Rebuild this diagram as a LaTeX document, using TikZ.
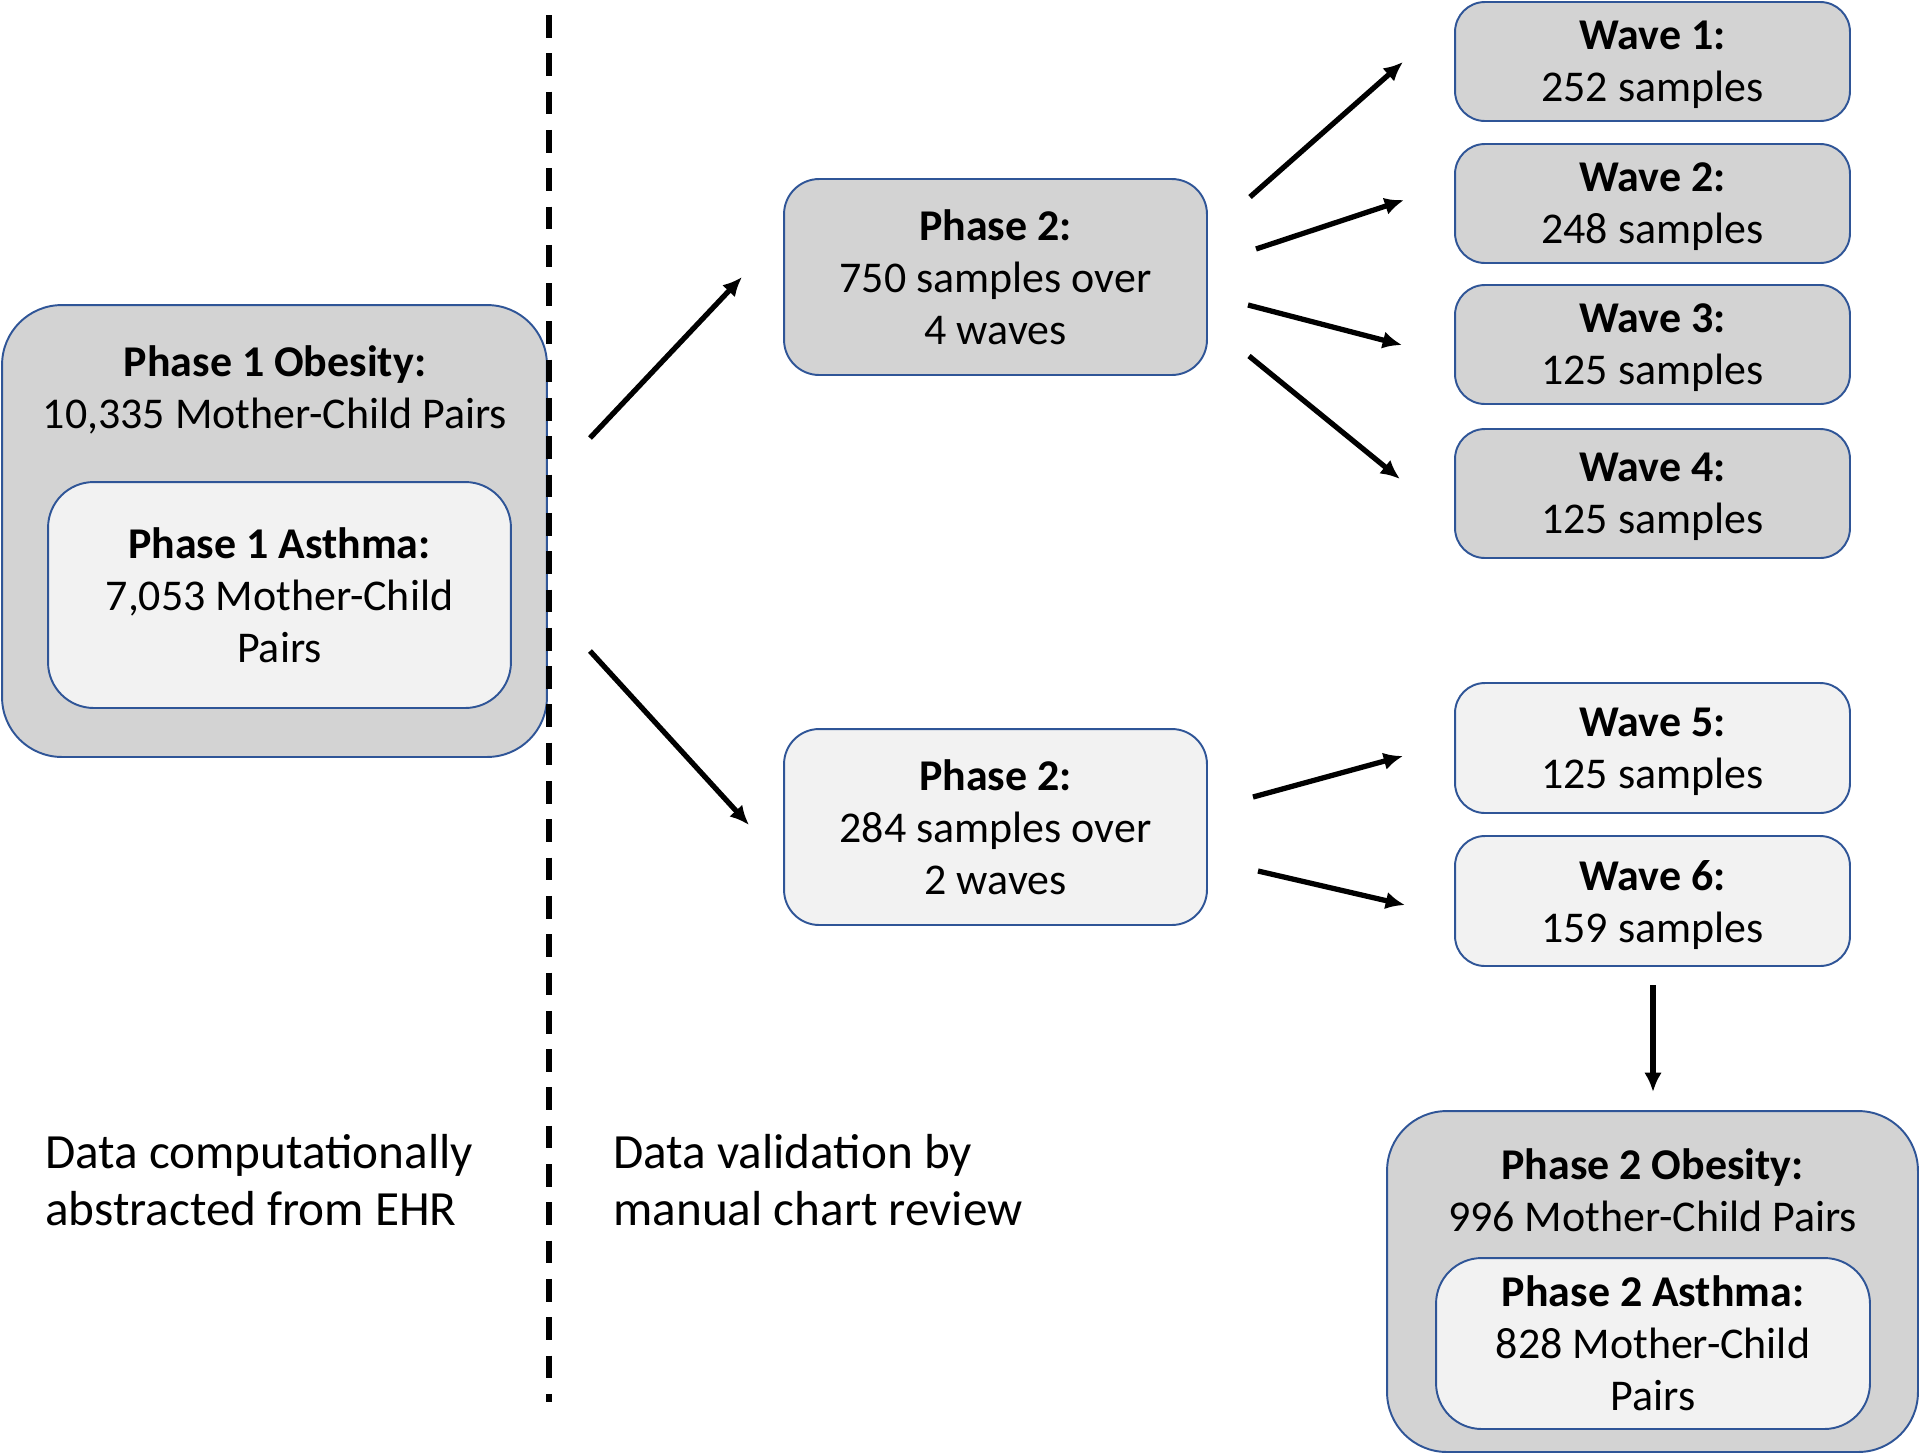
\documentclass[tikz,border=0pt]{standalone}
\usepackage{fontspec}
\setmainfont{Carlito}
\usetikzlibrary{arrows.meta}

\definecolor{boxline}{HTML}{2F5597}
\definecolor{boxdark}{HTML}{D3D3D3}
\definecolor{boxlight}{HTML}{F2F2F2}

\tikzset{
  box/.style={draw=boxline, line width=1.1pt, align=center, inner sep=0pt},
  darkbox/.style={box, fill=boxdark},
  lightbox/.style={box, fill=boxlight},
  wavebox/.style={rounded corners=17pt, minimum width=7.9cm, text depth=0pt},
  flow/.style={->, line width=3pt},
  note/.style={align=left, anchor=west, inner sep=0pt, font=\fontsize{28}{32.7}\selectfont},
}

\begin{document}
\begin{tikzpicture}[x=0.02cm, y=-0.02cm, >={Latex[length=11pt,width=10pt]},
  every node/.style={font=\fontsize{25}{29.6}\selectfont}]
  \useasboundingbox (0,0) rectangle (1920,1455);

  % Phase 1
  \node[darkbox, rounded corners=34pt, minimum width=10.9cm, minimum height=9.04cm] (p1obs) at (274.5,531) {};
  \node[align=center] (p1title) at (275,390) {\textbf{Phase 1 Obesity:}\\10,335 Mother-Child Pairs};
  \node[lightbox, rounded corners=26pt, minimum width=9.26cm, minimum height=4.52cm] (p1ast) at (279.5,595)
    {\textbf{Phase 1 Asthma:}\\7,053 Mother-Child\\Pairs};

  % Linia podzialu
  \coordinate (dtop) at (549,15);
  \coordinate (dbot) at (549,1402);
  \draw[line width=3pt, dash pattern=on 12.9pt off 8.9pt] (dtop) -- (dbot);

  % Phase 2
  \node[darkbox, rounded corners=20pt, minimum width=8.46cm, minimum height=3.92cm] (p2a) at (995.5,277)
    {\textbf{Phase 2:}\\750 samples over\\4 waves};
  \node[lightbox, rounded corners=20pt, minimum width=8.46cm, minimum height=3.92cm] (p2b) at (995.5,827)
    {\textbf{Phase 2:}\\284 samples over\\2 waves};

  % Waves
  \node[darkbox, wavebox, minimum height=2.38cm] (w1) at (1652.5,61.5) {\textbf{Wave 1:}\\252 samples};
  \node[darkbox, wavebox, minimum height=2.38cm] (w2) at (1652.5,203.5) {\textbf{Wave 2:}\\248 samples};
  \node[darkbox, wavebox, minimum height=2.38cm] (w3) at (1652.5,344.5) {\textbf{Wave 3:}\\125 samples};
  \node[darkbox, wavebox, minimum height=2.58cm] (w4) at (1652.5,493.5) {\textbf{Wave 4:}\\125 samples};
  \node[lightbox, wavebox, minimum height=2.6cm] (w5) at (1652.5,748) {\textbf{Wave 5:}\\125 samples};
  \node[lightbox, wavebox, minimum height=2.6cm] (w6) at (1652.5,901) {\textbf{Wave 6:}\\159 samples};

  % Phase 2 wynik
  \node[darkbox, rounded corners=34pt, minimum width=10.62cm, minimum height=6.82cm] (p2obs) at (1652.5,1281.5) {};
  \node[align=center] (p2title) at (1652.5,1190) {\textbf{Phase 2 Obesity:}\\996 Mother-Child Pairs};
  \node[lightbox, rounded corners=26pt, minimum width=8.68cm, minimum height=3.42cm] (p2ast) at (1653,1343.5)
    {\textbf{Phase 2 Asthma:}\\828 Mother-Child\\Pairs};

  % Opisy
  \node[note] (ehr) at (45,1180) {Data computationally\\abstracted from EHR};
  \node[note] (review) at (613,1180) {Data validation by\\manual chart review};

  % Strzalki
  \coordinate (a1s) at (590,438);   \coordinate (a1e) at (742,277);
  \coordinate (a2s) at (590,651);   \coordinate (a2e) at (749,825);
  \coordinate (b1s) at (1250,197);  \coordinate (b1e) at (1403,62);
  \coordinate (b2s) at (1256,249);  \coordinate (b2e) at (1404,200);
  \coordinate (b3s) at (1248,305);  \coordinate (b3e) at (1402,345);
  \coordinate (b4s) at (1249,356);  \coordinate (b4e) at (1400,479);
  \coordinate (c1s) at (1253,797);  \coordinate (c1e) at (1403,756);
  \coordinate (c2s) at (1258,871);  \coordinate (c2e) at (1405,905);
  \coordinate (ds) at (1653,985);   \coordinate (de) at (1653,1092);

  \draw[flow] (a1s) -- (a1e);
  \draw[flow] (a2s) -- (a2e);
  \draw[flow] (b1s) -- (b1e);
  \draw[flow] (b2s) -- (b2e);
  \draw[flow] (b3s) -- (b3e);
  \draw[flow] (b4s) -- (b4e);
  \draw[flow] (c1s) -- (c1e);
  \draw[flow] (c2s) -- (c2e);
  \draw[flow] (ds) -- (de);
\end{tikzpicture}
\end{document}
